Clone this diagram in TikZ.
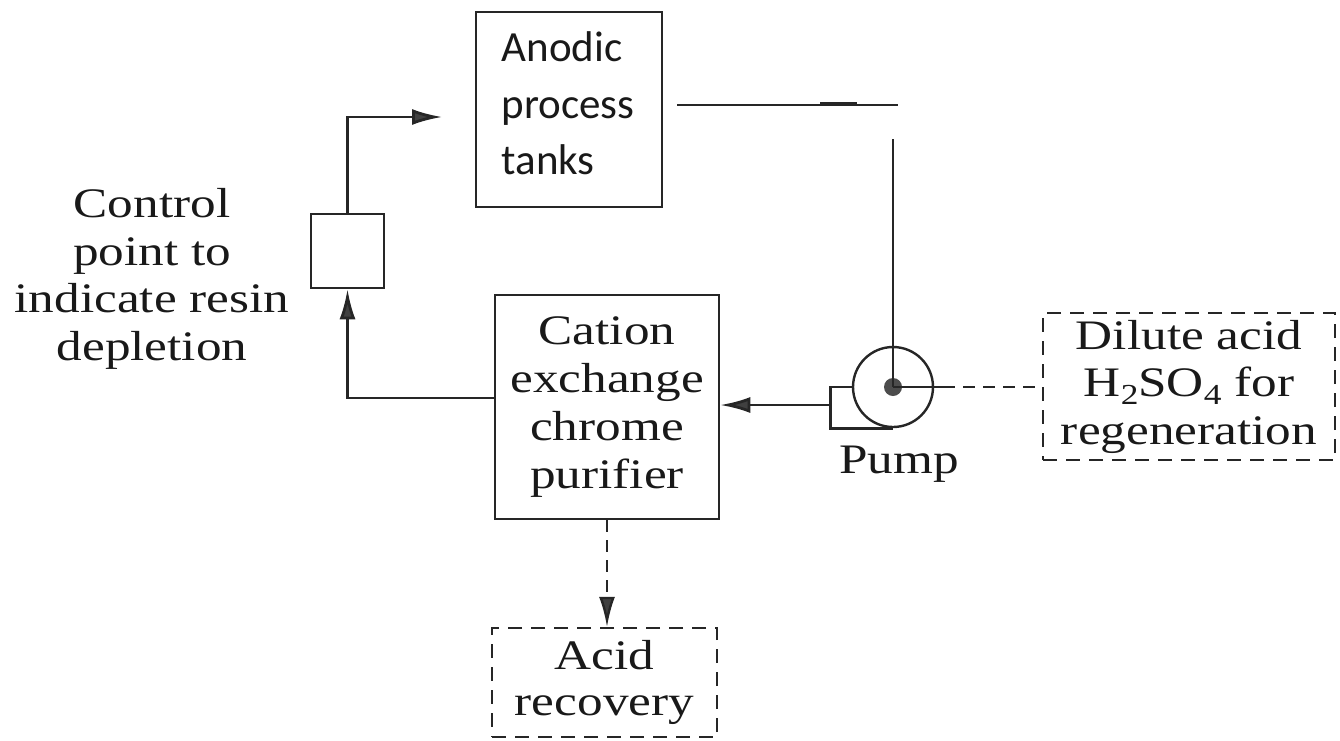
\documentclass[tikz,border=0pt]{standalone}
\usepackage{fontspec}
\setmainfont{Liberation Serif}[FakeStretch=1.22]
\newfontfamily\tanksfont{Carlito}
\usetikzlibrary{arrows.meta,calc}
\newcommand\lowsub[1]{\raisebox{-8pt}{\fontsize{29}{29}\selectfont #1}}
\tikzset{
  ln/.style={line width=2.8pt, draw=black!85},
  box/.style={draw=black!85, line width=2.6pt, inner sep=0pt},
  dbox/.style={draw=black!85, line width=2.4pt, dash pattern=on 14pt off 9pt, inner sep=0pt},
  dline/.style={line width=2.4pt, draw=black!85, dash pattern=on 12pt off 8pt},
  serif/.style={font=\fontsize{42}{47.5}\selectfont, align=center, text=black!90},
  arr/.style={-{Latex[length=30pt,width=16pt,fill=black!75]}},
}
\begin{document}
\begin{tikzpicture}[x=1pt,y=-1pt]
\useasboundingbox (0,0) rectangle (1340,740);

% Anodic process tanks
\node[box, minimum width=186, minimum height=195] (tank) at (569,109.5) {};
\node[font=\tanksfont\fontsize{43}{56.5}\selectfont, align=left, inner sep=0pt, text=black!90] (tanktext) at (568,103.5) {Anodic\\process\\tanks};
\coordinate (tankin) at (442,117);

% control point
\node[box, minimum width=73, minimum height=74] (ctrl) at (347.5,251) {};
\node[serif, inner sep=0pt] (ctrltext) at (152,279) {Control\\point to\\indicate resin\\depletion};

% cation exchange purifier
\node[box, minimum width=224, minimum height=224, serif, font=\fontsize{42}{48}\selectfont] (cation) at (607,407) {Cation\\exchange\\chrome\\purifier};

% dilute acid
\node[dbox, minimum width=292, minimum height=147, serif] (dilute) at (1189,386.5) {Dilute acid\\H\lowsub{2}SO\lowsub{4} for\\regeneration};

% acid recovery
\node[dbox, minimum width=225, minimum height=109, serif, font=\fontsize{42}{46}\selectfont] (acid) at (604.5,682.5) {Acid\\recovery};

% pump
\node[circle, draw=black!85, line width=2.4pt, minimum size=80, inner sep=0pt] (pump) at (893,387) {};
\node[circle, fill=black!70, minimum size=18, inner sep=0pt] (hub) at (893,387) {};
\draw[ln] (pump.west) -- ++(-21,0) coordinate (cw) |- (pump.south);
\node[serif, anchor=base] (pumptext) at (899,473) {Pump};
\coordinate (pumpout) at ($(cw)+(0,18)$);

% return line from tanks
\coordinate (h1) at (677,105);
\coordinate (h2) at (898,105);
\draw[ln] (h1) -- (h2);
\draw[line width=4pt, draw=black!85] (820,104) -- (857,104);
\coordinate (v1) at (893,139);
\draw[ln] (v1) -- (hub.center);

% connectors
\draw[ln, arr] (pumpout) -- (pumpout -| cation.east);
\draw[ln, arr] ($(cation.west)+(0,-9)$) -| (ctrl.south);
\draw[ln, arr] (ctrl.north) |- (tankin);
\draw[ln] (hub.center) -- ++(50,0) coordinate (d0);
\draw[dline] (d0) -- (dilute.west |- d0);
\draw[dline, arr] (cation.south) -- (cation.south |- acid.north);
\end{tikzpicture}
\end{document}
